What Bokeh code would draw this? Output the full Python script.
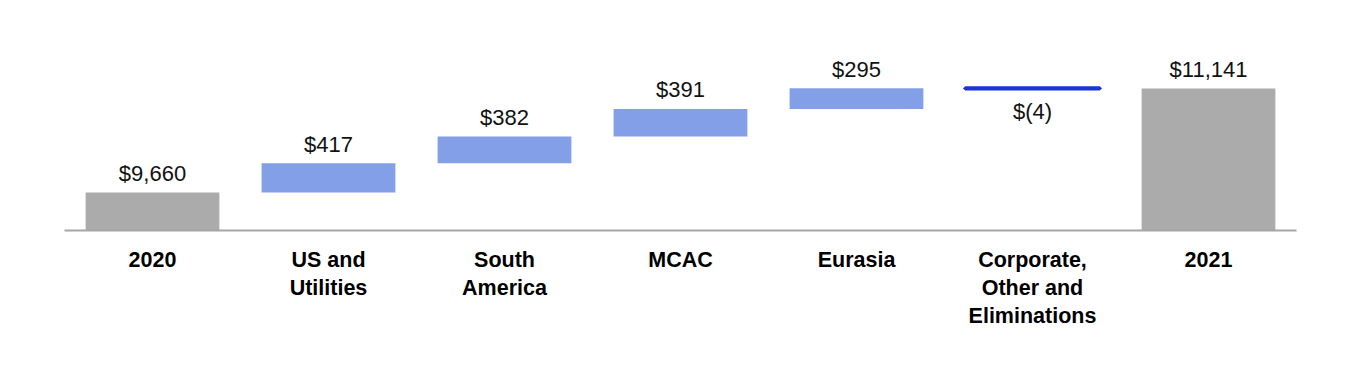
from bokeh.plotting import figure
from bokeh.models import ColumnDataSource, FactorRange, Range1d
from bokeh.core.properties import value
from bokeh.embed import file_html
from bokeh.resources import INLINE

# ---- data ----
categories = ["2020", "US and\nUtilities", "South\nAmerica", "MCAC", "Eurasia",
              "Corporate,\nOther and\nEliminations", "2021"]
start_total = 9660
changes = [417, 382, 391, 295, -4]
end_total = 11141
value_labels = ["$9,660", "$417", "$382", "$391", "$295", "$(4)", "$11,141"]

Y_START = 9119
Y_END = 12138

# ---- derived geometry from data ----
bottoms, tops = [Y_START], [start_total]
running = start_total
for c in changes:
    b, t = running, running + c
    bottoms.append(min(b, t))
    tops.append(max(b, t))
    running += c
bottoms.append(Y_START)
tops.append(end_total)

FONT = "Liberation Sans"
GRAY = "#ababab"
BLUE = "#829fe8"
DARK = "#1a35d4"

p = figure(x_range=FactorRange(factors=categories, range_padding=0),
           y_range=Range1d(Y_START, Y_END),
           width=1350, height=382, output_backend="svg", toolbar_location=None,
           min_border_left=64, min_border_right=54, min_border_top=18, min_border_bottom=152)
p.outline_line_color = None
p.grid.grid_line_color = None
p.yaxis.visible = False
p.xaxis.axis_line_color = "#a6a6a6"
p.xaxis.axis_line_width = 2
p.xaxis.major_tick_line_color = None
p.xaxis.minor_tick_line_color = None
p.xaxis.major_label_text_font = FONT
p.xaxis.major_label_text_font_size = "21.5px"
p.xaxis.major_label_text_font_style = "bold"
p.xaxis.major_label_text_color = "#000000"
p.xaxis.major_label_text_line_height = 1.18
p.xaxis.major_label_standoff = 11

# totals (gray)
tot = ColumnDataSource(dict(x=[categories[0], categories[-1]],
                            b=[bottoms[0], bottoms[-1]], t=[tops[0], tops[-1]]))
p.vbar(x="x", bottom="b", top="t", width=0.76, source=tot, fill_color=GRAY, line_color=None)

# positive changes
pos_idx = [i + 1 for i, c in enumerate(changes) if c >= 0]
neg_idx = [i + 1 for i, c in enumerate(changes) if c < 0]
pos = ColumnDataSource(dict(x=[categories[i] for i in pos_idx],
                            b=[bottoms[i] for i in pos_idx], t=[tops[i] for i in pos_idx]))
p.vbar(x="x", bottom="b", top="t", width=0.76, source=pos, fill_color=BLUE, line_color=None)

neg = ColumnDataSource(dict(x=[categories[i] for i in neg_idx],
                            b=[bottoms[i] for i in neg_idx], t=[tops[i] for i in neg_idx]))
p.vbar(x="x", bottom="b", top="t", width=0.765, source=neg, fill_color=DARK,
       line_color=DARK, line_width=4)

# value labels above (positive & totals)
up_idx = [0] + pos_idx + [len(categories) - 1]
up = ColumnDataSource(dict(x=[categories[i] for i in up_idx], y=[tops[i] for i in up_idx],
                           t=[value_labels[i] for i in up_idx]))
p.text(x="x", y="y", text="t", source=up, text_align="center", text_baseline="alphabetic",
       y_offset=-19, text_font=value(FONT), text_font_size="22px", text_color="#111111")

down = ColumnDataSource(dict(x=[categories[i] for i in neg_idx], y=[bottoms[i] for i in neg_idx],
                             t=[value_labels[i] for i in neg_idx]))
p.text(x="x", y="y", text="t", source=down, text_align="center", text_baseline="alphabetic",
       y_offset=23, text_font=value(FONT), text_font_size="22px", text_color="#111111")

open("out.html", "w").write(file_html(p, INLINE))
